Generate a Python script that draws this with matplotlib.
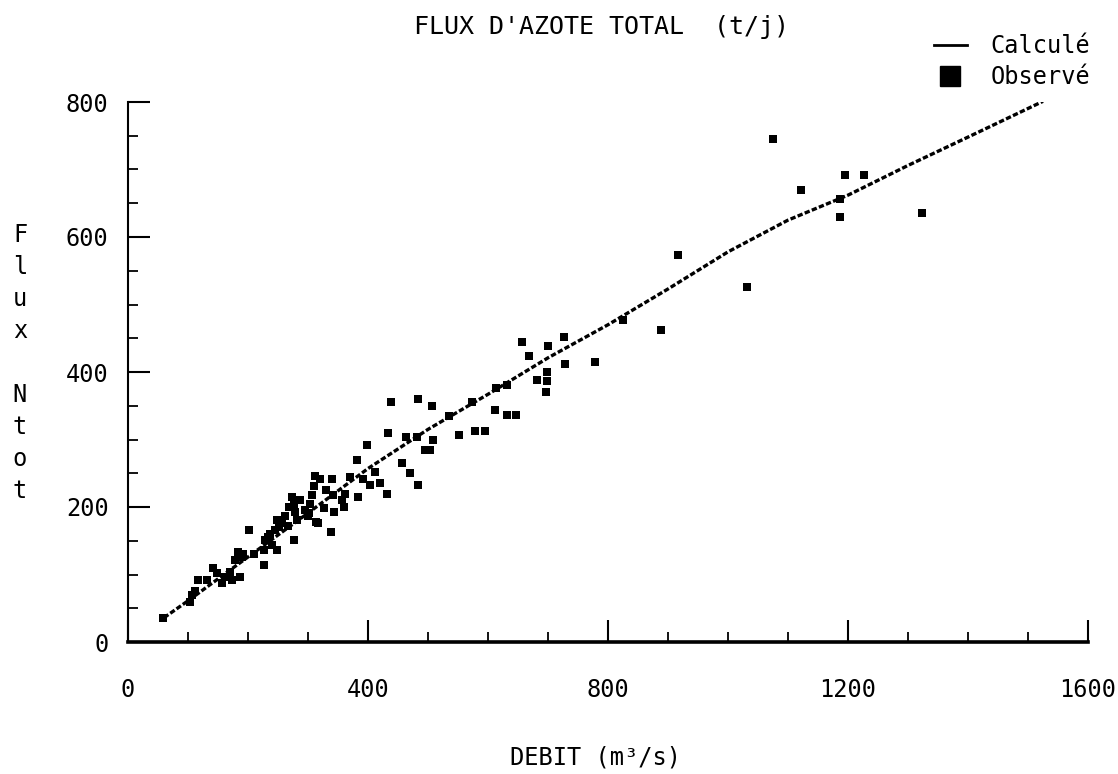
import matplotlib
matplotlib.use("Agg")
import matplotlib.pyplot as plt
from matplotlib.lines import Line2D
from matplotlib.ticker import MultipleLocator

# calculated curve (debit m3/s -> flux t/j)
calc_q = [60, 100, 200, 300, 400, 500, 600, 700, 800, 900, 1000, 1100, 1200, 1300, 1400, 1525]
calc_n = [36, 61, 126, 191, 257, 315, 367, 421, 470, 523, 578, 625, 662, 706, 748, 801]

# observed points
obs_q = [59, 103, 106, 112, 117, 131, 142, 148, 156, 162, 170, 173, 178, 184, 187, 190, 192,
         201, 210, 226, 226, 228, 234, 236, 240, 245, 248, 248, 252, 256, 262, 266, 268,
         273, 276, 278, 281, 276, 286, 295, 300, 301, 303, 306, 310, 312, 314, 317, 320,
         326, 330, 340, 342, 339, 344, 356, 360, 362, 370, 381, 384, 392, 398, 403, 412,
         420, 431, 434, 439,
         456, 464, 470, 481, 484, 484, 495, 503, 506, 508, 535, 551, 574, 579, 595, 612,
         614, 631, 631, 647, 656, 668, 681, 696, 699, 698, 700, 727, 728, 778, 825, 889,
         917, 1031, 1075, 1121, 1187, 1187, 1195, 1226, 1324]
obs_n = [35, 60, 70, 75, 92, 92, 109, 102, 87, 97, 104, 92, 121, 134, 97, 126, 131,
         166, 130, 114, 136, 151, 156, 160, 144, 166, 136, 181, 170, 176, 186, 172, 200,
         215, 205, 193, 181, 151, 210, 195, 186, 191, 205, 218, 231, 246, 178, 176, 241,
         198, 225, 241, 218, 163, 192, 210, 200, 220, 245, 269, 215, 242, 292, 232, 252,
         235, 220, 309, 356,
         265, 304, 251, 304, 360, 233, 285, 285, 350, 299, 335, 307, 355, 313, 313, 344,
         376, 337, 381, 337, 445, 423, 388, 370, 386, 400, 438, 452, 412, 415, 477, 462,
         573, 526, 745, 670, 630, 656, 692, 692, 635]

FONT = ["DejaVu Sans Mono"]
plt.rcParams["font.family"] = FONT

W, H = 1118, 774
fig = plt.figure(figsize=(W / 100, H / 100), dpi=100)
ax = fig.add_axes([128 / W, 1 - 642 / H, 960 / W, 540 / H])

ax.plot(calc_q, calc_n, color="black", lw=2.4, dashes=(1.6, 0.7), zorder=3)
ax.scatter(obs_q, obs_n, marker="s", s=30, color="black", linewidths=0, zorder=4)

ax.set_xlim(0, 1600)
ax.set_ylim(0, 800)
for side in ("top", "right"):
    ax.spines[side].set_visible(False)
ax.spines["left"].set_linewidth(1.5)
ax.spines["bottom"].set_linewidth(2.6)

ax.set_xticks([0, 400, 800, 1200, 1600])
ax.set_yticks([0, 200, 400, 600, 800])
ax.xaxis.set_minor_locator(MultipleLocator(100))
ax.yaxis.set_minor_locator(MultipleLocator(50))
ax.tick_params(which="major", direction="in", length=16, width=1.5, labelsize=17)
ax.tick_params(which="minor", direction="in", length=7, width=1.3)
ax.tick_params(axis="x", which="major", pad=26)
ax.tick_params(axis="y", which="major", pad=14)

fig.text(601 / W, 1 - 27 / H, "FLUX D'AZOTE TOTAL  (t/j)", ha="center", va="center",
         fontsize=18)
fig.text(596 / W, 1 - 757 / H, "DEBIT (m³/s)", ha="center", va="center", fontsize=17)
fig.text(20 / W, 1 - 363 / H, "F\nl\nu\nx\n\nN\nt\no\nt", ha="center", va="center",
         fontsize=17, linespacing=1.42)

handles = [Line2D([], [], color="black", lw=2),
           Line2D([], [], color="black", marker="s", ls="none", ms=14)]
fig.legend(handles, ["Calculé", "Observé"], loc="upper right",
           bbox_to_anchor=(1090 / W, 1 - 34 / H), frameon=False, fontsize=17,
           handlelength=1.4, handletextpad=1.0, labelspacing=0.3,
           borderpad=0, borderaxespad=0)

fig.savefig("out.png", dpi=100, facecolor="white")
